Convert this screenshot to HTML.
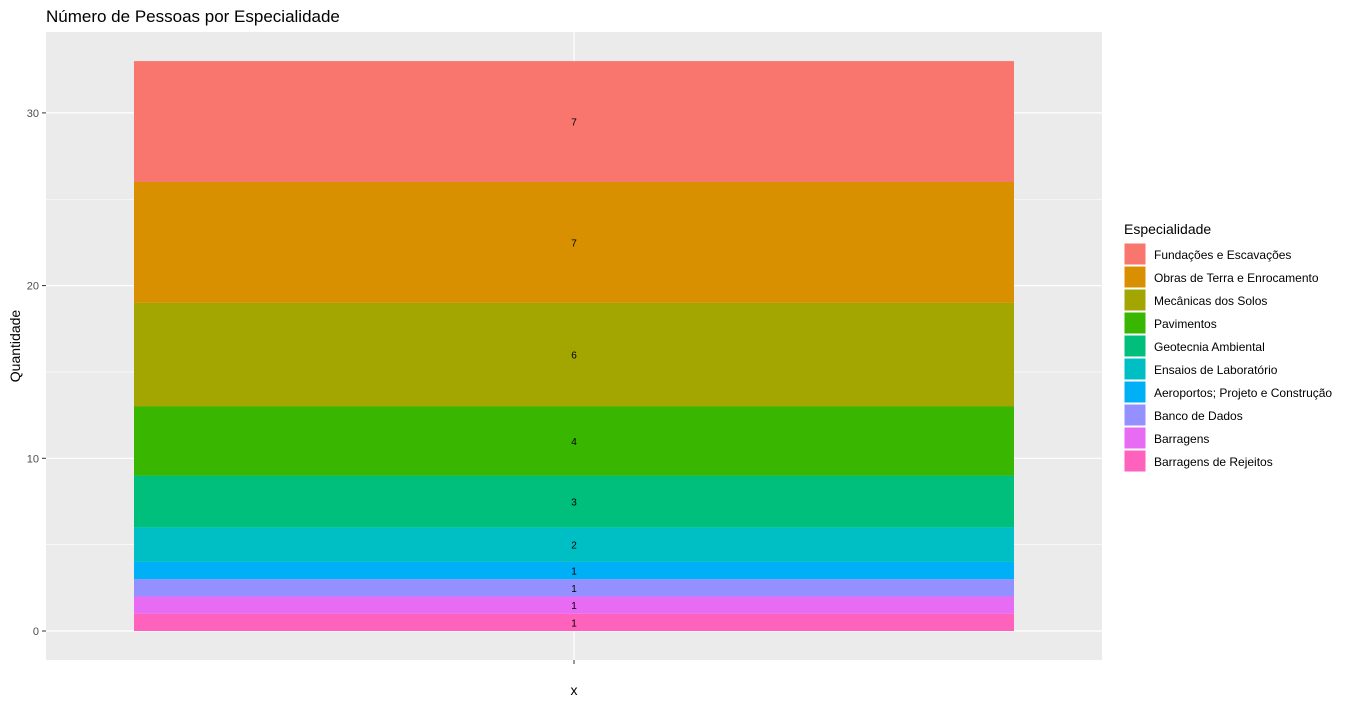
<!DOCTYPE html>
<html><head><meta charset="utf-8"><style>
body{margin:0;background:#fff;}
svg{display:block;font-family:"Liberation Sans",Arial,sans-serif;}
</style></head><body>
<svg id="c" width="1366" height="705">
<text x="46" y="22" font-size="17" fill="#000">Número de Pessoas por Especialidade</text>
<rect x="46" y="32" width="1056" height="628" fill="#ebebeb"/>
<g id="grid"></g><g id="bars"></g><g id="axes"></g><g id="legend"></g>
<text x="574" y="695" font-size="14" text-anchor="middle">x</text>
<text transform="translate(20,346) rotate(-90)" font-size="14" text-anchor="middle">Quantidade</text>
</svg>
<script>
const categories=["Fundações e Escavações","Obras de Terra e Enrocamento","Mecânicas dos Solos","Pavimentos","Geotecnia Ambiental","Ensaios de Laboratório","Aeroportos; Projeto e Construção","Banco de Dados","Barragens","Barragens de Rejeitos"];
const values=[7,7,6,4,3,2,1,1,1,1];
const colors=["#F8766D","#D89000","#A3A500","#39B600","#00BF7D","#00BFC4","#00B0F6","#9590FF","#E76BF3","#FF62BC"];
const yTicks=[0,10,20,30];
const NS="http://www.w3.org/2000/svg";
function mk(p,t,a){const e=document.createElementNS(NS,t);for(const k in a)e.setAttribute(k,a[k]);p.appendChild(e);return e;}
const y0=631,k=17.27;
const Y=v=>y0-v*k;
const grid=document.getElementById('grid'),bars=document.getElementById('bars'),axes=document.getElementById('axes'),leg=document.getElementById('legend');
yTicks.forEach((t,i)=>{
  if(i<yTicks.length){const m=t+5;if(Y(m)>32){const l=mk(grid,'line',{x1:46,x2:1102,y1:Y(m),y2:Y(m),stroke:'#fff','stroke-width':0.6});}}
  const g=mk(grid,'line',{x1:46,x2:1102,y1:Y(t),y2:Y(t),stroke:'#fff','stroke-width':1.2});
  
  const tk=mk(axes,'line',{x1:42,x2:46,y1:Y(t),y2:Y(t),stroke:'#333'});
  
  const tx=mk(axes,'text',{x:39,y:Y(t)+4,'font-size':11,fill:'#4d4d4d','text-anchor':'end'});tx.textContent=t;
  
});
const vg=mk(grid,'line',{x1:574,x2:574,y1:32,y2:660,stroke:'#fff','stroke-width':1.2});

const xt=mk(axes,'line',{x1:574,x2:574,y1:660,y2:664,stroke:'#333'});

let cum=0;
for(let i=values.length-1;i>=0;i--){
  const a=cum,b=cum+values[i];cum=b;
  const r=mk(bars,'rect',{x:134,width:880,y:Y(b),height:Y(a)-Y(b),fill:colors[i]});
  
  const t=mk(bars,'text',{x:574,y:(Y(a)+Y(b))/2+4,'font-size':10,'text-anchor':'middle',fill:'#000'});t.textContent=values[i];
  
}
const lt=mk(leg,'text',{x:1124,y:234,'font-size':14});lt.textContent='Especialidade';

categories.forEach((c,i)=>{
  const y=243+i*23;
  const r=mk(leg,'rect',{x:1124,y:y,width:22,height:22,fill:colors[i],stroke:'#fff','stroke-width':1});
  
  const t=mk(leg,'text',{x:1154,y:y+16,'font-size':12});t.textContent=c;
  
});
</script>
</body></html>
